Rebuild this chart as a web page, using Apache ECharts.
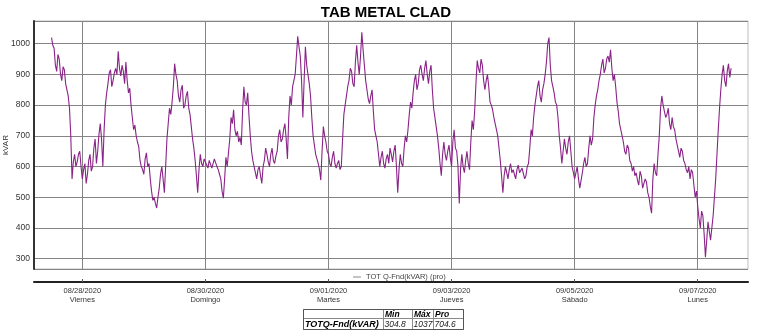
<!DOCTYPE html>
<html>
<head>
<meta charset="utf-8">
<script src="https://cdn.jsdelivr.net/npm/echarts@6/dist/echarts.min.js"></script>
<style>
html,body{margin:0;padding:0;background:#fff;}
#chart{width:763px;height:331px;}
</style>
</head>
<body>
<div id="chart"></div>
<script>
// ---- data ----
var chartTitle = 'TAB METAL CLAD';
var seriesName = 'TOT Q-Fnd(kVAR) (pro)';
var yAxisName = 'kVAR';
// half-hourly readings; x = hours since 2020-08-28 00:00, first reading 2020-08-27 12:00
var firstHour = -12;
var stepHours = 0.5;
var kvarAug27 = [1020, 995, 985, 930, 910, 965, 950, 900, 880, 925, 915, 870, 850, 830, 790, 700, 560, 615, 640, 600, 615, 640, 650, 600];
var kvarAug28 = [560, 590, 610, 545, 575, 620, 640, 585, 600, 660, 690, 610, 650, 705, 740, 690, 600, 720, 800, 840, 870, 905, 915, 860, 880, 905, 920, 900, 975, 920, 895, 930, 910, 870, 940, 880, 840, 855, 800, 760, 720, 735, 700, 680, 665, 620, 600, 590];
var kvarAug29 = [575, 625, 645, 600, 610, 560, 520, 490, 500, 480, 465, 500, 530, 575, 600, 560, 515, 600, 690, 740, 790, 770, 810, 860, 935, 900, 880, 830, 810, 850, 865, 790, 800, 830, 845, 790, 770, 730, 690, 660, 620, 570, 515, 590, 640, 610, 600, 625];
var kvarAug30 = [630, 605, 595, 620, 615, 595, 600, 625, 620, 600, 590, 575, 560, 520, 497, 560, 630, 600, 600, 690, 760, 740, 785, 720, 700, 715, 680, 695, 670, 780, 860, 810, 800, 840, 765, 700, 650, 620, 600, 580, 560, 590, 600, 570, 545, 600, 620, 660];
var kvarAug31 = [640, 615, 600, 640, 660, 620, 610, 635, 650, 700, 720, 680, 690, 720, 740, 690, 625, 760, 830, 800, 860, 880, 900, 960, 1024, 990, 960, 880, 760, 880, 990, 930, 900, 870, 830, 760, 700, 670, 640, 625, 610, 590, 556, 650, 730, 700, 680, 650];
var kvarSep01 = [640, 610, 600, 630, 650, 610, 595, 610, 620, 590, 600, 690, 770, 800, 830, 860, 880, 920, 910, 870, 860, 940, 995, 940, 900, 960, 1037, 980, 930, 880, 850, 820, 805, 830, 850, 780, 720, 700, 680, 640, 600, 630, 650, 610, 595, 625, 640, 610];
var kvarSep02 = [660, 640, 615, 650, 670, 600, 515, 590, 640, 610, 600, 660, 700, 680, 720, 770, 810, 790, 840, 880, 900, 850, 870, 915, 930, 900, 880, 920, 945, 900, 870, 910, 930, 850, 790, 760, 730, 700, 660, 610, 570, 640, 680, 640, 620, 650, 670, 630];
var kvarSep03 = [600, 680, 720, 660, 650, 600, 480, 590, 640, 600, 580, 620, 650, 610, 590, 680, 750, 720, 780, 870, 945, 920, 905, 950, 930, 880, 850, 880, 900, 860, 810, 800, 785, 760, 740, 720, 700, 660, 620, 570, 515, 570, 600, 580, 560, 590, 610, 580];
var kvarSep04 = [590, 575, 560, 590, 605, 580, 575, 595, 600, 560, 570, 600, 610, 660, 720, 700, 760, 800, 830, 860, 880, 830, 810, 850, 870, 900, 940, 1000, 1020, 930, 880, 860, 840, 810, 800, 760, 700, 660, 610, 650, 690, 660, 640, 680, 700, 650, 600, 580];
var kvarSep05 = [560, 580, 600, 560, 530, 555, 580, 610, 630, 600, 610, 660, 700, 670, 690, 760, 800, 830, 850, 880, 900, 930, 950, 905, 920, 950, 960, 940, 980, 920, 880, 900, 860, 810, 780, 740, 720, 700, 680, 650, 640, 670, 660, 620, 610, 585, 600, 570];
var kvarSep06 = [580, 555, 540, 585, 570, 530, 525, 560, 550, 515, 500, 470, 448, 560, 610, 580, 570, 640, 700, 790, 830, 800, 780, 760, 770, 790, 740, 720, 760, 730, 720, 690, 670, 650, 630, 660, 650, 620, 610, 590, 580, 600, 560, 590, 580, 540, 500, 520];
var kvarSep07 = [470, 430, 400, 455, 440, 380, 304.8, 360, 420, 390, 360, 400, 440, 500, 560, 640, 720, 790, 850, 900, 930, 880, 860, 910, 935, 890, 920];

var tickHours = [0, 48, 96, 144, 192, 240];
var tickLabels = [
  '08/28/2020\nViernes', '08/30/2020\nDomingo', '09/01/2020\nMartes',
  '09/03/2020\nJueves', '09/05/2020\nSábado', '09/07/2020\nLunes'
];
var tableHeader = ['', 'Min', 'Máx', 'Pro'];
var tableRowName = 'TOTQ-Fnd(kVAR)';
var tableValues = ['304.8', '1037', '704.6'];

// ---- build ----
var kvarValues = [].concat(kvarAug27, kvarAug28, kvarAug29, kvarAug30, kvarAug31, kvarSep01,
  kvarSep02, kvarSep03, kvarSep04, kvarSep05, kvarSep06, kvarSep07);
var seriesData = kvarValues.map(function (v, i) { return [firstHour + i * stepHours, v]; });
var xMin = -18.84;
var xMax = 259.6;

var tX = [303, 383, 412, 433, 463];
var tY = [309, 318, 329];
var tableEls = [];
for (var r = 0; r < 2; r++) {
  for (var c = 0; c < 4; c++) {
    tableEls.push({
      type: 'rect',
      shape: { x: tX[c] + 0.5, y: tY[r] + 0.5, width: tX[c + 1] - tX[c], height: tY[r + 1] - tY[r] },
      style: { fill: '#fff', stroke: '#8a8a8a', lineWidth: 1 }
    });
  }
}
tableEls.push({
  type: 'rect',
  shape: { x: tX[0] + 0.5, y: tY[0] + 0.5, width: tX[4] - tX[0], height: tY[2] - tY[0] },
  style: { fill: 'none', stroke: '#555', lineWidth: 1 }
});
for (var c2 = 1; c2 < 4; c2++) {
  tableEls.push({
    type: 'text',
    x: tX[c2] + 2, y: (tY[0] + tY[1]) / 2 + 1,
    style: { text: tableHeader[c2], fontFamily: 'Arial, Liberation Sans', fontSize: 8.5, fontWeight: 'bold', fontStyle: 'italic', fill: '#000', verticalAlign: 'middle', align: 'left' }
  });
  tableEls.push({
    type: 'text',
    x: tX[c2] + 1.5, y: (tY[1] + tY[2]) / 2 + 1,
    style: { text: tableValues[c2 - 1], fontFamily: 'Arial, Liberation Sans', fontSize: 8.5, fontStyle: 'italic', fill: '#222', verticalAlign: 'middle', align: 'left' }
  });
}
tableEls.push({
  type: 'text',
  x: tX[0] + 2, y: (tY[1] + tY[2]) / 2 + 1,
  style: { text: tableRowName, fontFamily: 'Arial, Liberation Sans', fontSize: 9, fontWeight: 'bold', fontStyle: 'italic', fill: '#000', verticalAlign: 'middle', align: 'left' }
});

var chart = echarts.init(document.getElementById('chart'), null, { renderer: 'canvas' });
chart.setOption({
  animation: false,
  backgroundColor: '#fff',
  title: {
    text: chartTitle,
    left: 381, top: 0, textAlign: 'center',
    textStyle: { fontFamily: 'Arial, Liberation Sans', fontSize: 15, fontWeight: 'bold', color: '#000' }
  },
  legend: {
    data: [seriesName],
    left: 348, top: 268,
    icon: 'rect', itemWidth: 8, itemHeight: 1, itemGap: 4,
    itemStyle: { color: '#888' },
    textStyle: { fontFamily: 'Arial, Liberation Sans', fontSize: 7.5, color: '#444' }
  },
  grid: {
    left: 34, right: 15, top: 21, bottom: 62,
    show: true, borderColor: '#bdbdbd', borderWidth: 1,
    containLabel: false, outerBoundsMode: 'none'
  },
  xAxis: {
    type: 'value',
    min: xMin, max: xMax,
    offset: 13,
    axisLine: { show: true, onZero: false, lineStyle: { color: '#222', width: 2 } },
    axisTick: { show: true, customValues: tickHours, length: 3, inside: true, lineStyle: { color: '#555' } },
    axisLabel: {
      customValues: tickHours,
      formatter: function (val) {
        var i = tickHours.indexOf(Math.round(val));
        return i >= 0 ? tickLabels[i] : '';
      },
      fontFamily: 'Arial, Liberation Sans', fontSize: 7.5, color: '#333',
      lineHeight: 9, margin: 4
    },
    splitLine: { show: true, lineStyle: { color: '#858585', width: 1 } }
  },
  yAxis: {
    type: 'value',
    min: 266.5, max: 1074,
    splitNumber: 8,
    name: yAxisName, nameLocation: 'middle', nameGap: 24, nameRotate: 90,
    nameMoveOverlap: false,
    nameTextStyle: { fontFamily: 'Arial, Liberation Sans', fontSize: 8, color: '#333' },
    axisLine: { show: true, onZero: false, lineStyle: { color: '#333', width: 2 } },
    axisTick: { show: false },
    axisLabel: {
      showMinLabel: false, showMaxLabel: false,
      formatter: function (v) { return String(v); },
      fontFamily: 'Arial, Liberation Sans', fontSize: 8.5, color: '#333', margin: 4
    },
    splitLine: { show: true, lineStyle: { color: '#858585', width: 1 } }
  },
  series: [{
    name: seriesName,
    type: 'line',
    data: seriesData,
    showSymbol: false,
    symbol: 'none',
    sampling: false,
    lineStyle: { color: '#8a2388', width: 1.1 },
    itemStyle: { color: '#8a2388' }
  }],
  graphic: [{ type: 'group', children: tableEls }]
});
</script>
</body>
</html>
